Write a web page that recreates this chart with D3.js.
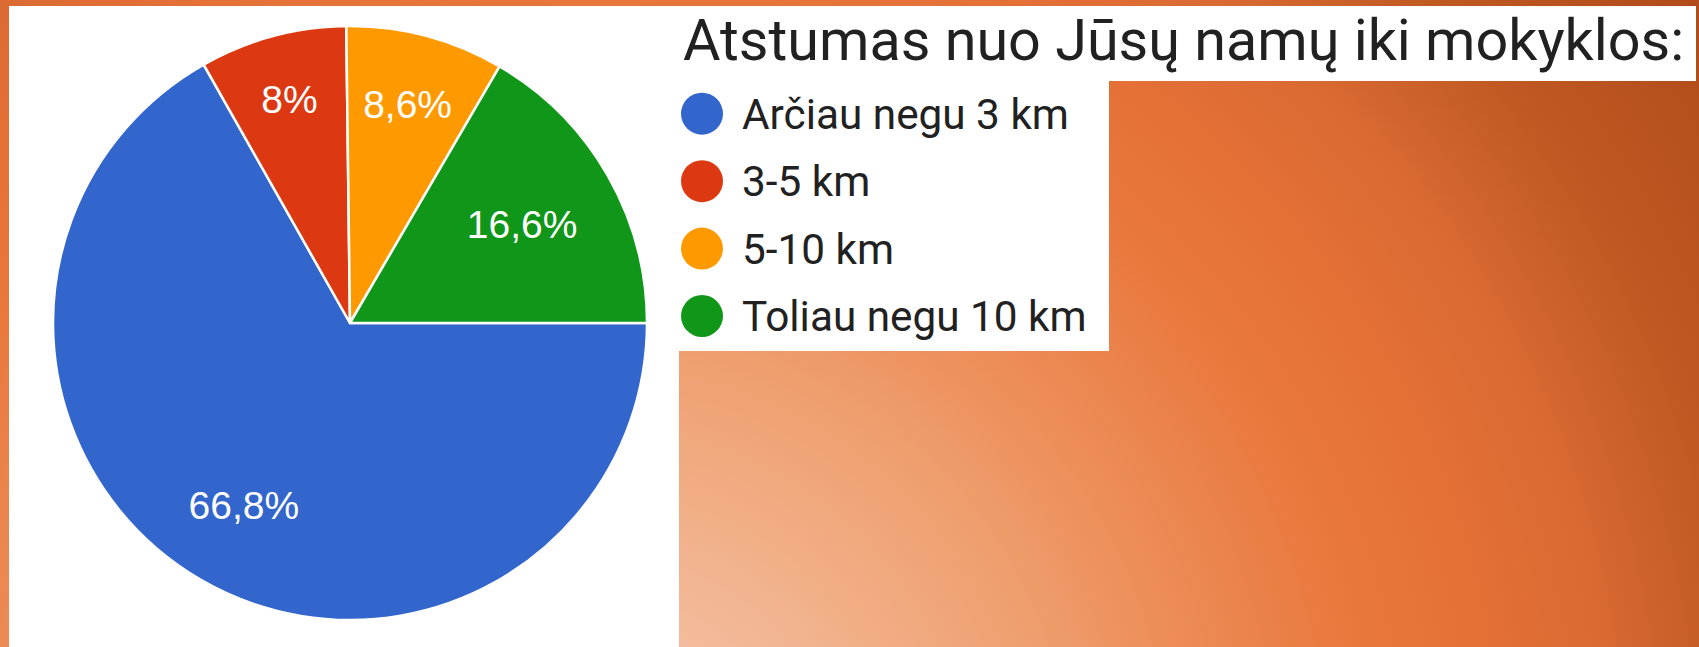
<!DOCTYPE html>
<html>
<head>
<meta charset="utf-8">
<script src="https://cdn.jsdelivr.net/npm/d3@7"></script>
<style>
  html, body { margin: 0; padding: 0; background: #fff; }
  svg { display: block; }
</style>
</head>
<body>
<svg id="chart" width="1699" height="647"></svg>
<script>
// ---- data ----
const categories = ["Arčiau negu 3 km", "3-5 km", "5-10 km", "Toliau negu 10 km"];
const values = [66.8, 8, 8.6, 16.6];
const title = "Atstumas nuo Jūsų namų iki mokyklos:";
const sliceColors = ["#3366CC", "#DC3912", "#FF9900", "#109618"];

// ---- layout ----
const W = 1699, H = 647;
const svg = d3.select("#chart");

// background gradient (slide)
const defs = svg.append("defs");
const grad = defs.append("radialGradient")
  .attr("id", "bg").attr("gradientUnits", "userSpaceOnUse")
  .attr("cx", 600).attr("cy", 800).attr("r", 1400);
[[0, "#F6C8AC"], [0.13, "#F3BB9B"], [0.32, "#EFA070"], [0.44, "#EC8A55"],
 [0.55, "#E9783C"], [0.64, "#E47036"], [0.72, "#D96A32"], [0.83, "#BF5822"], [1, "#AD4818"]]
  .forEach(([o, c]) => grad.append("stop").attr("offset", o).attr("stop-color", c));

svg.append("rect").attr("width", W).attr("height", H).attr("fill", "url(#bg)");

// white panels (pasted screenshot pieces)
const panel = svg.append("g").attr("fill", "#fff");
panel.append("rect").attr("x", 9).attr("y", 6).attr("width", 670).attr("height", H - 6);
panel.append("rect").attr("x", 9).attr("y", 6).attr("width", 1100).attr("height", 345);
panel.append("rect").attr("x", 9).attr("y", 6).attr("width", 1687).attr("height", 75);

// ---- pie ----
const cx = 350, cy = 323, R = 297;
const color = d3.scaleOrdinal().domain(categories).range(sliceColors);
const locale = d3.formatLocale({decimal: ",", thousands: " ", grouping: [3], currency: ["", "€"]});
const pct = v => locale.format(".1~f")(v) + "%";

const pie = d3.pie().sort(null).value(d => d.value)
  .startAngle(Math.PI / 2).endAngle(Math.PI / 2 + 2 * Math.PI);
const arcs = pie(categories.map((c, i) => ({cat: c, value: values[i]})));
const arc = d3.arc().innerRadius(0).outerRadius(R);

const g = svg.append("g").attr("transform", `translate(${cx},${cy})`);
g.selectAll("path.slice").data(arcs).join("path")
  .attr("class", "slice")
  .attr("d", arc)
  .attr("fill", d => color(d.data.cat))
  .attr("stroke", "#fff").attr("stroke-width", 2.5).attr("stroke-linejoin", "round");

// labels: placed along mid-angle so that the outer corner of the text box sits at 0.85R
const labelFont = 39;
const capH = 0.716 * labelFont;
const R0 = 0.855 * R;
const lbl = g.selectAll("text.lbl").data(arcs).join("text")
  .attr("class", "lbl")
  .attr("font-family", "'Liberation Sans', Arial, sans-serif")
  .attr("font-size", labelFont)
  .attr("fill", "#fff")
  .attr("text-anchor", "middle")
  .text(d => pct(d.data.value));
lbl.each(function(d) {
  const w = this.getComputedTextLength() / 2, h = capH / 2;
  const a = (d.startAngle + d.endAngle) / 2;
  const ux = Math.sin(a), uy = -Math.cos(a);
  const b = w * Math.abs(ux) + h * Math.abs(uy);
  const dist = -b + Math.sqrt(b * b - (w * w + h * h - R0 * R0));
  d3.select(this).attr("x", dist * ux).attr("y", dist * uy + h);
});

// ---- title ----
svg.append("text")
  .attr("x", 683).attr("y", 60)
  .attr("font-family", "Roboto, sans-serif")
  .attr("font-size", 57.5)
  .attr("fill", "#212121")
  .text(title);

// ---- legend ----
const legY = d3.scalePoint().domain(categories).range([113.7, 316]);
const leg = svg.append("g").selectAll("g").data(categories).join("g")
  .attr("transform", d => `translate(702,${legY(d)})`);
leg.append("circle").attr("r", 21).attr("fill", d => color(d));
leg.append("text")
  .attr("x", 40).attr("dy", "0.355em")
  .attr("font-family", "Roboto, sans-serif")
  .attr("font-size", 42.3)
  .attr("fill", "#212121")
  .text(d => d);
</script>
</body>
</html>
